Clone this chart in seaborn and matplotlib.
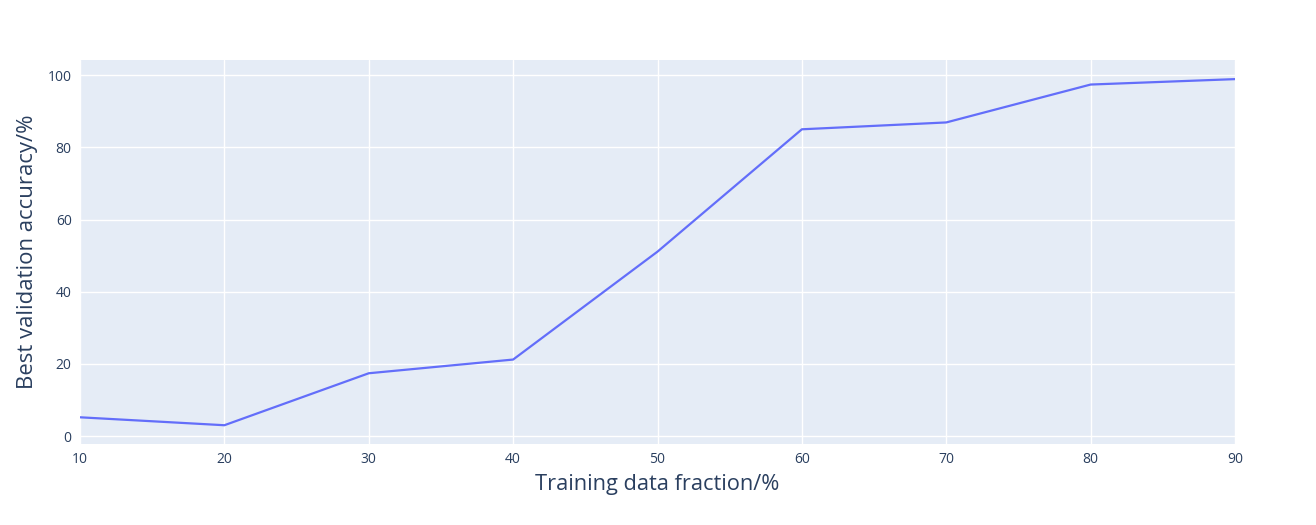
import matplotlib
matplotlib.use("Agg")
import matplotlib.pyplot as plt
import seaborn as sns
import pandas as pd

fraction = [10, 20, 30, 40, 50, 60, 70, 80, 90]
accuracy = [5.2, 3.0, 17.4, 21.2, 51.1, 85.0, 86.9, 97.4, 98.9]

df = pd.DataFrame({"fraction": fraction, "accuracy": accuracy})

sns.set_style("darkgrid", {"axes.facecolor": "#E5ECF6", "grid.color": "white"})
plt.rcParams["font.family"] = ["Open Sans", "DejaVu Sans"]

W, H = 1316, 525
fig = plt.figure(figsize=(W / 100, H / 100), dpi=100)
ax = fig.add_axes([80 / W, 1 - 444 / H, (1235 - 80) / W, (444 - 60) / H])

sns.lineplot(data=df, x="fraction", y="accuracy", ax=ax, color="#636EFA", linewidth=1.6)

ax.set_xlim(10, 90)
ax.set_ylim(-2.2, 104.2)
ax.set_xticks(range(10, 91, 10))
ax.set_yticks(range(0, 101, 20))
ax.grid(True, color="white", linewidth=1)
for s in ax.spines.values():
    s.set_visible(False)
ax.tick_params(colors="#2A3F5F", labelsize=10, length=0, pad=6)
ax.set_xlabel("Training data fraction/%", fontsize=15.7, color="#2A3F5F", labelpad=5)
ax.set_ylabel("Best validation accuracy/%", fontsize=15.9, color="#2A3F5F", labelpad=7)

fig.savefig("out.png", dpi=100)
